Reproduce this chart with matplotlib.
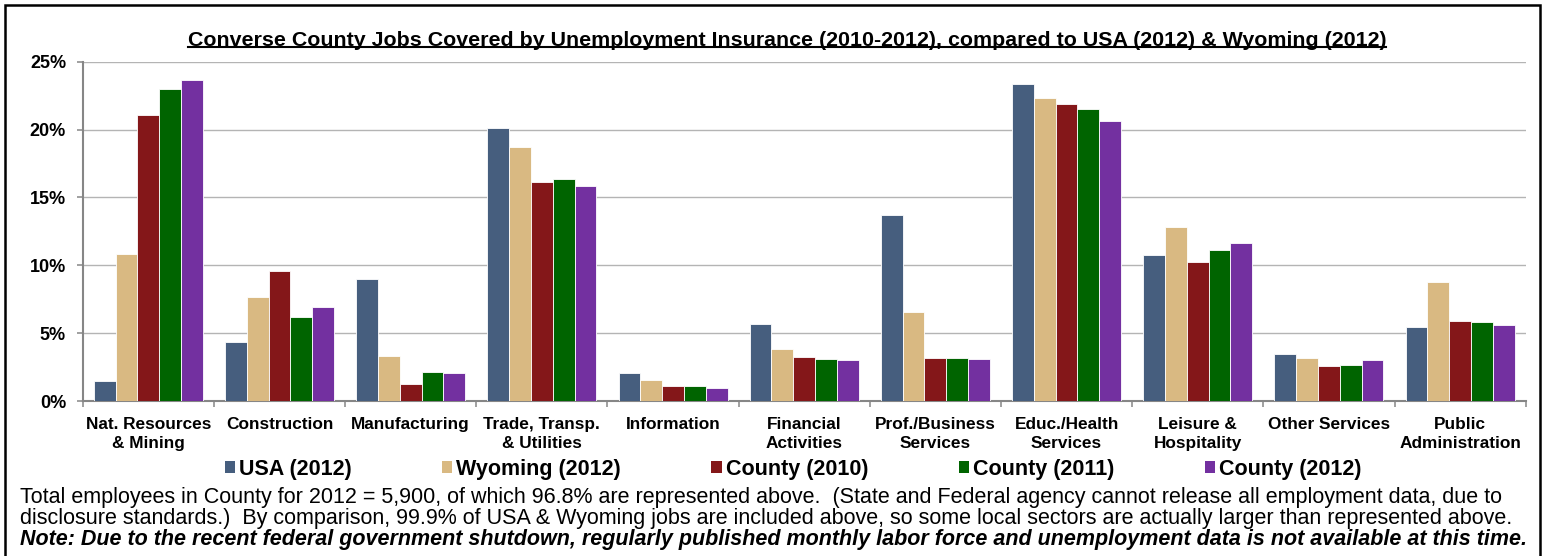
import matplotlib
matplotlib.use('Agg')
import matplotlib.pyplot as plt
import numpy as np
from matplotlib.patches import Patch, Rectangle
from matplotlib.lines import Line2D

categories = ["Nat. Resources\n& Mining", "Construction", "Manufacturing",
              "Trade, Transp.\n& Utilities", "Information", "Financial\nActivities",
              "Prof./Business\nServices", "Educ./Health\nServices", "Leisure &\nHospitality",
              "Other Services", "Public\nAdministration"]
usa_2012 = [1.45, 4.32, 9.02, 20.10, 2.09, 5.70, 13.71, 23.37, 10.74, 3.44, 5.48]
wyoming_2012 = [10.81, 7.67, 3.32, 18.75, 1.57, 3.83, 6.56, 22.33, 12.80, 3.14, 8.75]
county_2010 = [21.08, 9.56, 1.25, 16.17, 1.11, 3.22, 3.14, 21.89, 10.25, 2.60, 5.87]
county_2011 = [23.02, 6.22, 2.16, 16.39, 1.11, 3.07, 3.14, 21.50, 11.13, 2.65, 5.80]
county_2012 = [23.64, 6.90, 2.06, 15.82, 0.98, 3.02, 3.10, 20.61, 11.62, 3.05, 5.58]
series_labels = ["USA (2012)", "Wyoming (2012)", "County (2010)", "County (2011)", "County (2012)"]
series_colors = ["#465E7E", "#D9B982", "#841719", "#006400", "#7330A0"]
yticks = [0, 5, 10, 15, 20, 25]

title = "Converse County Jobs Covered by Unemployment Insurance (2010-2012), compared to USA (2012) & Wyoming (2012)"
note_lines = [
    "Total employees in County for 2012 = 5,900, of which 96.8% are represented above.  (State and Federal agency cannot release all employment data, due to",
    "disclosure standards.)  By comparison, 99.9% of USA & Wyoming jobs are included above, so some local sectors are actually larger than represented above.",
]
note_bold = "Note: Due to the recent federal government shutdown, regularly published monthly labor force and unemployment data is not available at this time."

plt.rcParams['font.family'] = ['Liberation Sans', 'DejaVu Sans']

W, H = 1543, 556
fig = plt.figure(figsize=(W / 100, H / 100), dpi=100)
fig.patch.set_facecolor('white')

left, right, top, bottom = 82.7, 1525.7, 61.7, 401.0
ax = fig.add_axes([left / W, 1 - bottom / H, (right - left) / W, (bottom - top) / H])

series = [usa_2012, wyoming_2012, county_2010, county_2011, county_2012]
n = len(series)
x = np.arange(len(categories))
group_frac = 0.831
bw = group_frac / n
for i, (vals, lab, col) in enumerate(zip(series, series_labels, series_colors)):
    offs = (i - (n - 1) / 2) * bw
    ax.bar(x + offs, vals, width=bw, color=col, edgecolor='white', linewidth=0.6,
           label=lab, zorder=3)

ax.set_xlim(-0.5, len(categories) - 0.5)
ax.set_ylim(0, 25)
ax.set_yticks(yticks)
ax.set_yticklabels([f"{v}%" for v in yticks], fontsize=13, fontweight='bold')
ax.yaxis.grid(True, color='#B4B4B4', linewidth=1.0, zorder=0)
ax.set_axisbelow(True)

ax.set_xticks(np.arange(len(categories) + 1) - 0.5)
ax.set_xticklabels([])
ax.set_xticks(x, minor=True)
ax.set_xticklabels(categories, minor=True, fontsize=12.4, fontweight='bold',
                   linespacing=1.3)
ax.tick_params(axis='x', which='minor', length=0, pad=11.5)
ax.tick_params(axis='x', which='major', length=4, width=1.1, color='#868686', direction='out')
ax.tick_params(axis='y', length=4, width=1.1, color='#868686', pad=8)

for s in ['top', 'right']:
    ax.spines[s].set_visible(False)
for s in ['left', 'bottom']:
    ax.spines[s].set_color('#868686')
    ax.spines[s].set_linewidth(1.5)

# Title with underline
TFS = 15.4
t = fig.text(787 / W, 1 - 40 / H, title, ha='center', va='center', fontsize=TFS,
             fontweight='bold')

# Legend
LFS = 15.5
handles = [Patch(facecolor=c, edgecolor='none') for c in series_colors]
fig.legend(handles, series_labels, loc='center', bbox_to_anchor=(793 / W, 1 - 469.5 / H),
           ncol=5, frameon=False, handlelength=0.47, handleheight=0.47,
           handletextpad=0.19, columnspacing=4.2, borderpad=0, borderaxespad=0,
           prop={'weight': 'bold', 'size': LFS})

# Footnotes
NFS = 15.5
fig.text(20 / W, 1 - 498 / H, note_lines[0], ha='left', va='center', fontsize=NFS)
fig.text(20 / W, 1 - 518.5 / H, note_lines[1], ha='left', va='center', fontsize=NFS)
fig.text(20 / W, 1 - 539 / H, note_bold, ha='left', va='center', fontsize=NFS,
         fontweight='bold', fontstyle='italic')

# Outer frame
fig.patches.append(Rectangle((5 / W, -0.05), (1540 - 5) / W, 1 - 5 / H + 0.05,
                             transform=fig.transFigure, fill=False, edgecolor='black',
                             linewidth=1.8, figure=fig))

fig.canvas.draw()
r = fig.canvas.get_renderer()
bb = t.get_window_extent(renderer=r)
em = TFS * 100 / 72
uy = bb.y0 + 0.11 * em
fig.lines.append(Line2D([bb.x0 / W, bb.x1 / W], [uy / H, uy / H], transform=fig.transFigure,
                        color='black', linewidth=1.5, figure=fig))

fig.savefig('out.png', dpi=100, facecolor='white')
